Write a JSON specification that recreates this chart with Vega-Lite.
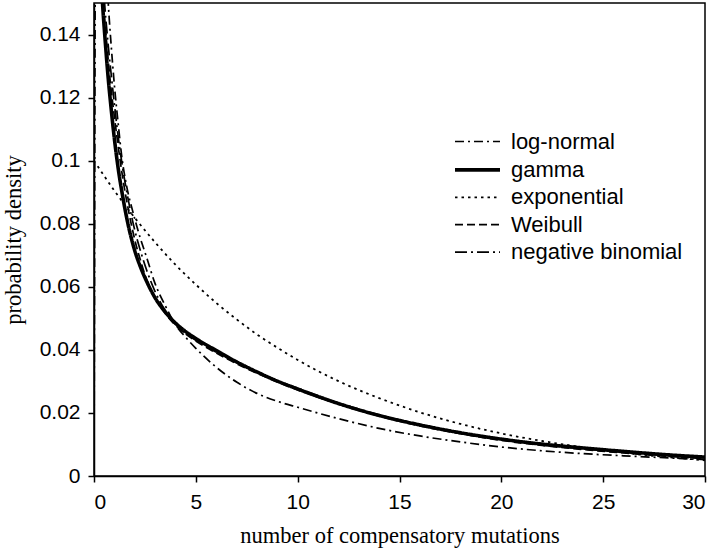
{
  "$schema": "https://vega.github.io/schema/vega-lite/v6.json",
  "autosize": {"type": "none"},
  "width": 611,
  "height": 473,
  "padding": {"left": 94, "top": 3, "right": 15, "bottom": 76},
  "background": "white",
  "config": {
    "view": {"stroke": "black", "strokeWidth": 1.5},
    "axis": {
      "domainColor": "black", "domainWidth": 1.5, "tickColor": "black", "tickWidth": 1.5,
      "labelFont": "Liberation Sans", "labelFontSize": 21, "labelColor": "black",
      "titleFont": "Liberation Serif", "titleFontSize": 22.5, "titleFontWeight": "normal", "titleColor": "black",
      "grid": false
    },
    "legend": {
      "labelFont": "Liberation Sans", "labelFontSize": 22, "labelColor": "black", "labelLimit": 400,
      "symbolType": "M-2,0H2", "symbolStrokeColor": "black"
    }
  },
  "data": {"values": [
    {"d": "gamma", "x": 0.3, "y": 0.165}, {"d": "gamma", "x": 0.4, "y": 0.152}, {"d": "gamma", "x": 0.55, "y": 0.138},
    {"d": "gamma", "x": 0.7, "y": 0.126}, {"d": "gamma", "x": 0.85, "y": 0.116}, {"d": "gamma", "x": 1.0, "y": 0.107},
    {"d": "gamma", "x": 1.2, "y": 0.097}, {"d": "gamma", "x": 1.4, "y": 0.089}, {"d": "gamma", "x": 1.7, "y": 0.079},
    {"d": "gamma", "x": 2.0, "y": 0.0715}, {"d": "gamma", "x": 2.3, "y": 0.066}, {"d": "gamma", "x": 2.6, "y": 0.0615},
    {"d": "gamma", "x": 3.0, "y": 0.0565}, {"d": "gamma", "x": 3.5, "y": 0.052}, {"d": "gamma", "x": 4.0, "y": 0.0485},
    {"d": "gamma", "x": 4.5, "y": 0.0458}, {"d": "gamma", "x": 5, "y": 0.0436}, {"d": "gamma", "x": 6, "y": 0.0398},
    {"d": "gamma", "x": 7, "y": 0.0362}, {"d": "gamma", "x": 8, "y": 0.033}, {"d": "gamma", "x": 9, "y": 0.0301},
    {"d": "gamma", "x": 10, "y": 0.0276}, {"d": "gamma", "x": 12, "y": 0.023}, {"d": "gamma", "x": 14, "y": 0.0192},
    {"d": "gamma", "x": 16, "y": 0.0162}, {"d": "gamma", "x": 18, "y": 0.0137}, {"d": "gamma", "x": 20, "y": 0.0117},
    {"d": "gamma", "x": 22, "y": 0.0101}, {"d": "gamma", "x": 24, "y": 0.0089}, {"d": "gamma", "x": 26, "y": 0.0078},
    {"d": "gamma", "x": 28, "y": 0.0068}, {"d": "gamma", "x": 30, "y": 0.006},

    {"d": "Weibull", "x": 0.35, "y": 0.165}, {"d": "Weibull", "x": 0.45, "y": 0.151}, {"d": "Weibull", "x": 0.6, "y": 0.139},
    {"d": "Weibull", "x": 0.8, "y": 0.125}, {"d": "Weibull", "x": 1.0, "y": 0.114}, {"d": "Weibull", "x": 1.2, "y": 0.104},
    {"d": "Weibull", "x": 1.4, "y": 0.095}, {"d": "Weibull", "x": 1.7, "y": 0.084}, {"d": "Weibull", "x": 2.0, "y": 0.075},
    {"d": "Weibull", "x": 2.3, "y": 0.068}, {"d": "Weibull", "x": 2.6, "y": 0.062}, {"d": "Weibull", "x": 3.0, "y": 0.0565},
    {"d": "Weibull", "x": 3.5, "y": 0.0515}, {"d": "Weibull", "x": 4.0, "y": 0.0478}, {"d": "Weibull", "x": 4.5, "y": 0.045},
    {"d": "Weibull", "x": 5, "y": 0.0428}, {"d": "Weibull", "x": 6, "y": 0.039}, {"d": "Weibull", "x": 7, "y": 0.0356},
    {"d": "Weibull", "x": 8, "y": 0.0326}, {"d": "Weibull", "x": 9, "y": 0.0298}, {"d": "Weibull", "x": 10, "y": 0.0273},
    {"d": "Weibull", "x": 12, "y": 0.0228}, {"d": "Weibull", "x": 14, "y": 0.019}, {"d": "Weibull", "x": 16, "y": 0.0159},
    {"d": "Weibull", "x": 18, "y": 0.0134}, {"d": "Weibull", "x": 20, "y": 0.0113}, {"d": "Weibull", "x": 22, "y": 0.0097},
    {"d": "Weibull", "x": 24, "y": 0.0084}, {"d": "Weibull", "x": 26, "y": 0.0073}, {"d": "Weibull", "x": 28, "y": 0.0063},
    {"d": "Weibull", "x": 30, "y": 0.0055},

    {"d": "negative binomial", "x": 0.4, "y": 0.165}, {"d": "negative binomial", "x": 0.5, "y": 0.152}, {"d": "negative binomial", "x": 0.65, "y": 0.14},
    {"d": "negative binomial", "x": 0.85, "y": 0.127}, {"d": "negative binomial", "x": 1.0, "y": 0.118}, {"d": "negative binomial", "x": 1.2, "y": 0.107},
    {"d": "negative binomial", "x": 1.4, "y": 0.098}, {"d": "negative binomial", "x": 1.7, "y": 0.087}, {"d": "negative binomial", "x": 2.0, "y": 0.078},
    {"d": "negative binomial", "x": 2.3, "y": 0.071}, {"d": "negative binomial", "x": 2.6, "y": 0.065}, {"d": "negative binomial", "x": 3.0, "y": 0.0585},
    {"d": "negative binomial", "x": 3.5, "y": 0.0525}, {"d": "negative binomial", "x": 4.0, "y": 0.0482}, {"d": "negative binomial", "x": 4.5, "y": 0.0452},
    {"d": "negative binomial", "x": 5, "y": 0.043}, {"d": "negative binomial", "x": 6, "y": 0.0393}, {"d": "negative binomial", "x": 7, "y": 0.036},
    {"d": "negative binomial", "x": 8, "y": 0.033}, {"d": "negative binomial", "x": 9, "y": 0.0302}, {"d": "negative binomial", "x": 10, "y": 0.0278},
    {"d": "negative binomial", "x": 12, "y": 0.0232}, {"d": "negative binomial", "x": 14, "y": 0.0194}, {"d": "negative binomial", "x": 16, "y": 0.0163},
    {"d": "negative binomial", "x": 18, "y": 0.0137}, {"d": "negative binomial", "x": 20, "y": 0.0116}, {"d": "negative binomial", "x": 22, "y": 0.0099},
    {"d": "negative binomial", "x": 24, "y": 0.0086}, {"d": "negative binomial", "x": 26, "y": 0.0075}, {"d": "negative binomial", "x": 28, "y": 0.0065},
    {"d": "negative binomial", "x": 30, "y": 0.0057},

    {"d": "log-normal", "x": 0, "y": 0}, {"d": "log-normal", "x": 0.02, "y": 0.05}, {"d": "log-normal", "x": 0.04, "y": 0.11},
    {"d": "log-normal", "x": 0.07, "y": 0.18}, {"d": "log-normal", "x": 0.2, "y": 0.32}, {"d": "log-normal", "x": 0.4, "y": 0.22},
    {"d": "log-normal", "x": 0.55, "y": 0.17}, {"d": "log-normal", "x": 0.7, "y": 0.15}, {"d": "log-normal", "x": 0.85, "y": 0.136},
    {"d": "log-normal", "x": 1.0, "y": 0.124}, {"d": "log-normal", "x": 1.2, "y": 0.111}, {"d": "log-normal", "x": 1.35, "y": 0.102},
    {"d": "log-normal", "x": 1.6, "y": 0.092}, {"d": "log-normal", "x": 1.9, "y": 0.084}, {"d": "log-normal", "x": 2.2, "y": 0.077},
    {"d": "log-normal", "x": 2.6, "y": 0.069}, {"d": "log-normal", "x": 3.0, "y": 0.061}, {"d": "log-normal", "x": 3.5, "y": 0.054},
    {"d": "log-normal", "x": 4.0, "y": 0.048}, {"d": "log-normal", "x": 4.5, "y": 0.044}, {"d": "log-normal", "x": 5, "y": 0.0405},
    {"d": "log-normal", "x": 6, "y": 0.0345}, {"d": "log-normal", "x": 7, "y": 0.0298}, {"d": "log-normal", "x": 8, "y": 0.0262},
    {"d": "log-normal", "x": 9, "y": 0.0237}, {"d": "log-normal", "x": 10, "y": 0.0218}, {"d": "log-normal", "x": 12, "y": 0.0182},
    {"d": "log-normal", "x": 14, "y": 0.0151}, {"d": "log-normal", "x": 16, "y": 0.0127}, {"d": "log-normal", "x": 18, "y": 0.0108},
    {"d": "log-normal", "x": 20, "y": 0.0092}, {"d": "log-normal", "x": 22, "y": 0.008}, {"d": "log-normal", "x": 24, "y": 0.0071},
    {"d": "log-normal", "x": 26, "y": 0.0064}, {"d": "log-normal", "x": 28, "y": 0.0058}, {"d": "log-normal", "x": 30, "y": 0.0052},

    {"d": "exponential", "x": 0, "y": 0.1}, {"d": "exponential", "x": 1, "y": 0.0905}, {"d": "exponential", "x": 2, "y": 0.0819},
    {"d": "exponential", "x": 3, "y": 0.0741}, {"d": "exponential", "x": 4, "y": 0.067}, {"d": "exponential", "x": 5, "y": 0.0607},
    {"d": "exponential", "x": 6, "y": 0.0549}, {"d": "exponential", "x": 7, "y": 0.0497}, {"d": "exponential", "x": 8, "y": 0.0449},
    {"d": "exponential", "x": 9, "y": 0.0407}, {"d": "exponential", "x": 10, "y": 0.0368}, {"d": "exponential", "x": 12, "y": 0.0301},
    {"d": "exponential", "x": 14, "y": 0.0247}, {"d": "exponential", "x": 16, "y": 0.0202}, {"d": "exponential", "x": 18, "y": 0.0165},
    {"d": "exponential", "x": 20, "y": 0.0135}, {"d": "exponential", "x": 22, "y": 0.0111}, {"d": "exponential", "x": 24, "y": 0.0091},
    {"d": "exponential", "x": 26, "y": 0.0074}, {"d": "exponential", "x": 28, "y": 0.0061}, {"d": "exponential", "x": 30, "y": 0.005}
  ]},
  "mark": {"type": "line", "clip": true, "interpolate": "monotone", "color": "black"},
  "encoding": {
    "x": {
      "field": "x", "type": "quantitative",
      "scale": {"domain": [0, 30], "nice": false},
      "axis": {"values": [0, 5, 10, 15, 20, 25, 30], "tickSize": 6, "labelPadding": 9.5, "title": "number of compensatory mutations", "titlePadding": 12}
    },
    "y": {
      "field": "y", "type": "quantitative",
      "scale": {"domain": [0, 0.15], "nice": false, "zero": true},
      "axis": {"values": [0, 0.02, 0.04, 0.06, 0.08, 0.1, 0.12, 0.14], "format": "~g", "tickSize": 6, "labelPadding": 8, "title": "probability density", "titlePadding": 14}
    },
    "detail": {"field": "d"},
    "strokeDash": {
      "field": "d", "type": "nominal",
      "scale": {"domain": ["log-normal", "gamma", "exponential", "Weibull", "negative binomial"], "range": [[9, 4, 2, 4], [1, 0], [2.5, 4], [8, 4], [12, 4, 2, 4]]},
      "legend": {"title": null, "orient": "none", "legendX": 370, "legendY": 126, "symbolSize": 506, "rowPadding": 3.4, "labelOffset": 20}
    },
    "strokeWidth": {
      "field": "d", "type": "nominal",
      "scale": {"type": "ordinal", "domain": ["log-normal", "gamma", "exponential", "Weibull", "negative binomial"], "range": [1.7, 3.6, 1.8, 1.7, 1.7]},
      "legend": {"title": null, "orient": "none", "legendX": 370, "legendY": 126, "symbolSize": 506, "rowPadding": 3.4, "labelOffset": 20}
    }
  }
}
